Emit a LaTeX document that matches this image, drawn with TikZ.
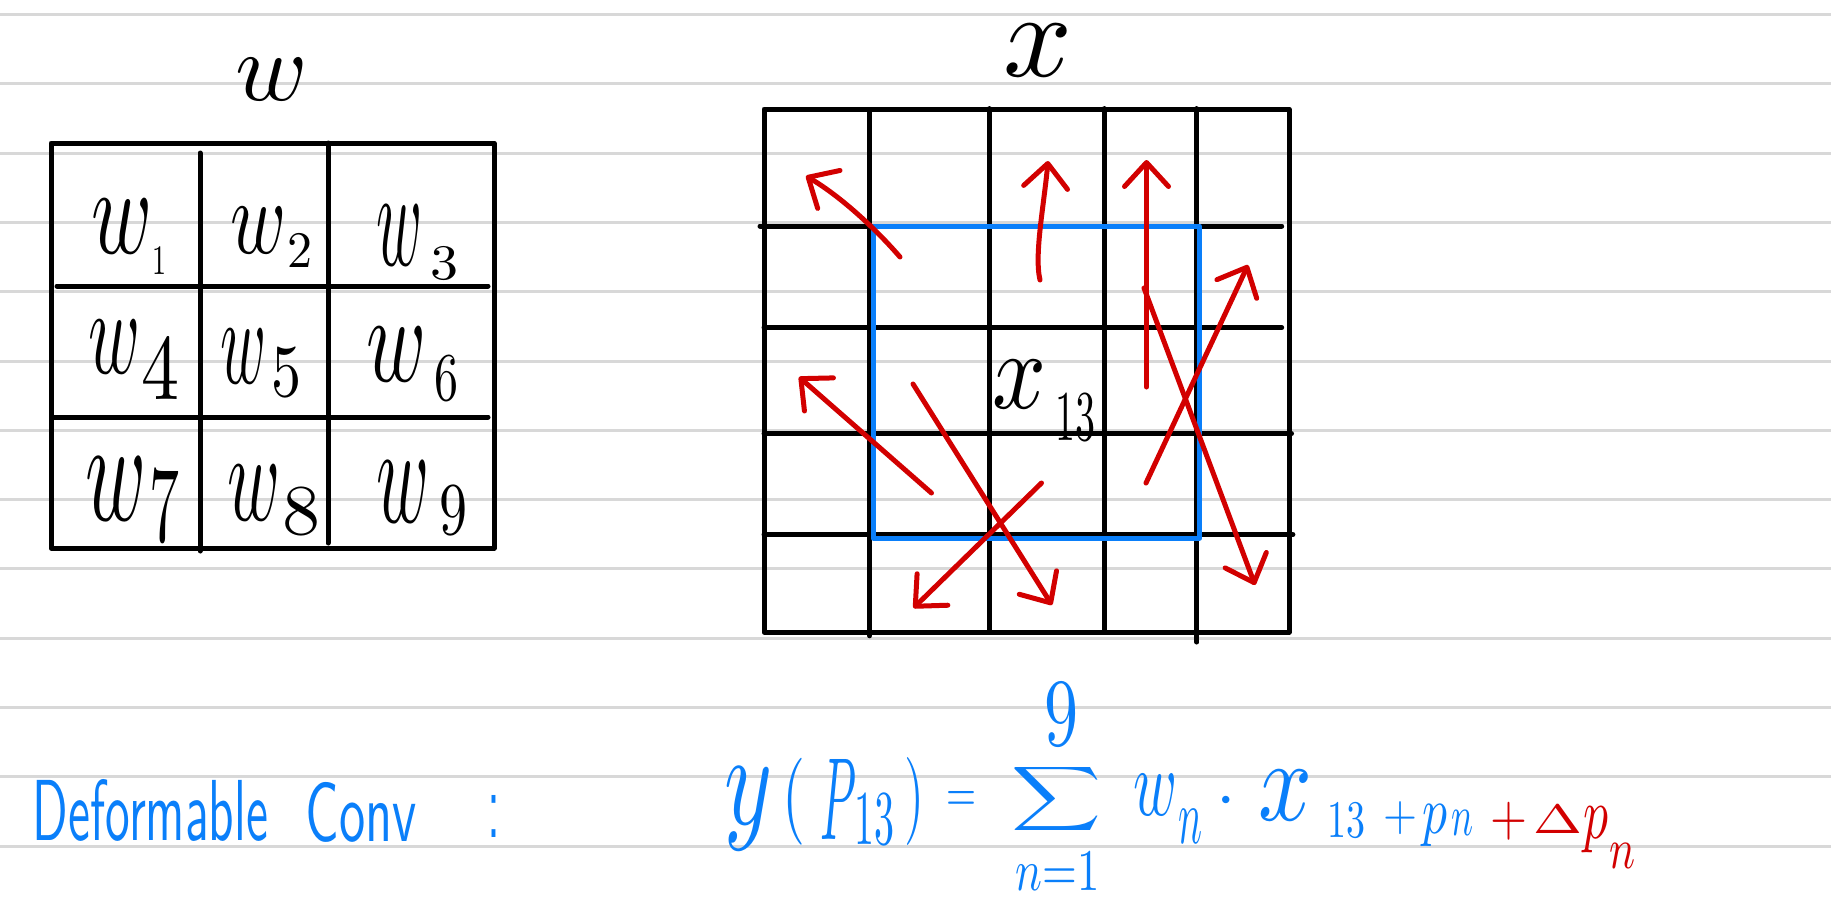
\documentclass[tikz,border=0pt]{standalone}
\usetikzlibrary{arrows.meta}
\definecolor{myred}{RGB}{210,0,0}
\definecolor{myblue}{RGB}{10,127,250}
\definecolor{ruleg}{RGB}{216,216,216}
\newcommand{\fitb}[3]{\resizebox*{#1pt}{#2pt}{#3}}
\begin{document}
\begin{tikzpicture}[x=1pt,y=-1pt,
  ruled/.style={draw=ruleg, line width=3pt},
  gline/.style={draw=black, line width=5pt, line cap=round, line join=round},
  bluebox/.style={draw=myblue, line width=5pt, line join=round},
  redarr/.style={draw=myred, line width=5pt, line cap=round, line join=round, -{Straight Barb[length=24pt,width=44pt,round]}},
  lbl/.style={inner sep=0pt, outer sep=0pt, anchor=center},
  bl/.style={lbl, text=myblue},
  rd/.style={lbl, text=myred}]

\fill[white] (0,0) rectangle (1831,913);
\useasboundingbox (0,0) rectangle (1831,913);
\foreach \k in {0,...,12} { \draw[ruled] (0,{14.5+69.3*\k}) -- (1831,{14.5+69.3*\k}); }

% ---------- w grid ----------
\draw[gline] (51,143) rectangle (494,548);
\draw[gline] (200,153) -- (200,551);
\draw[gline] (328,143) -- (328,543);
\draw[gline] (57,286) -- (488,286);
\draw[gline] (54,417) -- (488,417);

\node[lbl] (tw) at (272,79) {\resizebox*{!}{42pt}{$w$}};

\node[lbl] (w1) at (122.5,226) {\fitb{61}{54}{$w$}};
\node[lbl] (s1) at (159,260.5) {\fitb{14}{27}{$1$}};
\node[lbl] (w2) at (259,230) {\fitb{56}{46}{$w$}};
\node[lbl] (s2) at (300,251) {\fitb{25}{33}{$2$}};
\node[lbl] (w3) at (400,235.5) {\fitb{46}{60}{$w$}};
\node[lbl] (s3) at (444,263) {\fitb{28}{32}{$3$}};
\node[lbl] (w4) at (115,346.5) {\fitb{52}{53}{$w$}};
\node[lbl] (s4) at (160,369) {\fitb{38}{60}{$4$}};
\node[lbl] (w5) at (244,356) {\fitb{46}{54}{$w$}};
\node[lbl] (s5) at (286,372) {\fitb{30}{48}{$5$}};
\node[lbl] (w6) at (397,354) {\fitb{60}{54}{$w$}};
\node[lbl] (s6) at (446.5,378) {\fitb{24}{44}{$6$}};
\node[lbl] (w7) at (116.5,488.5) {\fitb{61}{63}{$w$}};
\node[lbl] (s7) at (164,506) {\fitb{30}{70}{$7$}};
\node[lbl] (w8) at (254,492.5) {\fitb{53}{55}{$w$}};
\node[lbl] (s8) at (301,511) {\fitb{38}{46}{$8$}};
\node[lbl] (w9) at (403.5,491.5) {\fitb{53}{61}{$w$}};
\node[lbl] (s9) at (453.5,510) {\fitb{28}{48}{$9$}};

% ---------- x grid ----------
\draw[gline] (764,109) rectangle (1289,632);
\draw[gline] (869.6,111.6) -- (869.6,635.8);
\draw[gline] (989.3,108.6) -- (989.3,631.6);
\draw[gline] (1104,108.6) -- (1104,631.6);
\draw[gline] (1196.9,108.6) -- (1196.9,642);
\draw[gline] (760,226) -- (1281.7,226);
\draw[gline] (764,327.6) -- (1281.7,327.6);
\draw[gline] (764,433.7) -- (1291.5,433.7);
\draw[gline] (764,534.7) -- (1292.9,534.7);

\draw[bluebox] (873.2,226) rectangle (1199.5,538);

\node[lbl] (tx) at (1038,50) {\resizebox*{!}{52pt}{$x$}};
\node[lbl] (gx) at (1019,384) {\fitb{54}{48}{$x$}};
\node[lbl] (g13) at (1075,417) {\fitb{40}{46}{$13$}};

% ---------- offset arrows ----------
\coordinate (a1t) at (900,257);    \coordinate (a1h) at (806,176);
\coordinate (a2t) at (1040,280);   \coordinate (a2h) at (1048,161);
\coordinate (a3t) at (1146.5,387); \coordinate (a3h) at (1146.5,160);
\coordinate (a4t) at (1144,288);   \coordinate (a4h) at (1255,585);
\coordinate (a5t) at (1146,483);   \coordinate (a5h) at (1248,265);
\coordinate (a6t) at (931.5,493);  \coordinate (a6h) at (799,377);
\coordinate (a7t) at (913,384);    \coordinate (a7h) at (1052,605);
\coordinate (a8t) at (1041.5,483); \coordinate (a8h) at (913.5,608);
\draw[redarr] (a1t) .. controls (875,228) and (840,196) .. (a1h);
\draw[redarr] (a2t) .. controls (1034,255) and (1044,205) .. (a2h);
\draw[redarr] (a3t) -- (a3h);
\draw[redarr] (a4t) -- (a4h);
\draw[redarr] (a5t) -- (a5h);
\draw[redarr] (a6t) -- (a6h);
\draw[redarr] (a7t) -- (a7h);
\draw[redarr] (a8t) -- (a8h);

% ---------- formula ----------
\node[bl] (d1) at (150.5,810) {\fitb{235}{62}{\sffamily Deformable}};
\node[bl] (d2) at (361.5,812) {\fitb{111}{60}{\sffamily Conv}};
\node[bl] (dc) at (493.5,816) {\fitb{13}{42}{\sffamily :}};

\node[bl] (fy) at (749,808.5) {\fitb{48}{83}{$y$}};
\node[bl] (flp) at (793.5,801.5) {\fitb{23}{87}{$($}};
\node[bl] (fP) at (838.5,799) {\fitb{36}{80}{$P$}};
\node[bl] (fs) at (874,819) {\fitb{40}{50}{$13$}};
\node[bl] (frp) at (914.5,801) {\fitb{20}{88}{$)$}};
\node[bl] (feq) at (961.5,801) {\fitb{30}{20}{$=$}};
\node[bl] (fsum) at (1057,799) {\fitb{90}{72}{$\displaystyle\sum$}};
\node[bl] (fnine) at (1061.5,714) {\fitb{34}{62}{$9$}};
\node[bl] (flow) at (1058,871) {\fitb{84}{38}{$n{=}1$}};
\node[bl] (fw) at (1155,794.5) {\fitb{44}{41}{$w$}};
\node[bl] (fwn) at (1190,826) {\fitb{24}{34}{$n$}};
\node[bl] (fdot) at (1226,802) {\scalebox{7}{$\cdot$}};
\node[bl] (fx) at (1285,795) {\fitb{54}{50}{$x$}};
\node[bl] (fxs) at (1346,820) {\fitb{38}{34}{$13$}};
\node[bl] (fpl) at (1400,818.5) {\fitb{34}{33}{$+$}};
\node[bl] (fp) at (1435,826) {\fitb{25}{42}{$p$}};
\node[bl] (fpn) at (1462,822.5) {\fitb{22}{25}{$n$}};
\node[rd] (fpl2) at (1508.5,821) {\fitb{37}{38}{$+$}};
\node[rd] (fdel) at (1557.5,819) {\fitb{49}{28}{$\Delta$}};
\node[rd] (fp2) at (1595.5,830) {\fitb{25}{46}{$p$}};
\node[rd] (fpn2) at (1622,856) {\fitb{26}{25}{$n$}};
\end{tikzpicture}
\end{document}
